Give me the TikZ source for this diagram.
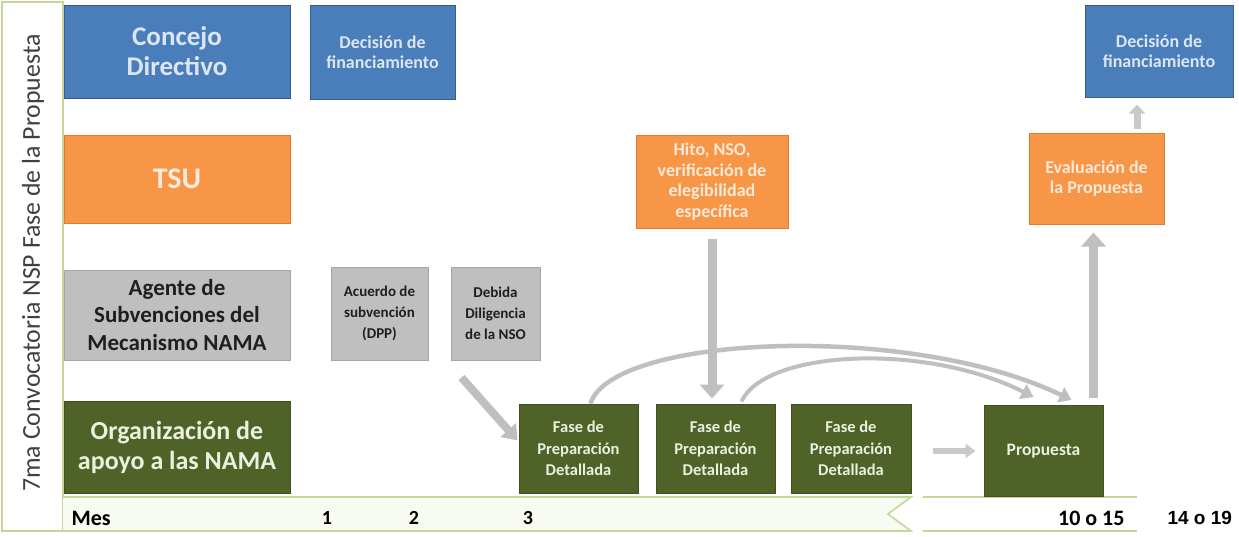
\documentclass[tikz,border=0pt]{standalone}
\usepackage{fontspec}
\setmainfont{Carlito}
\newfontfamily\arialfont{Liberation Sans}
\usetikzlibrary{arrows.meta,calc}
\definecolor{cdblue}{HTML}{4A7EBB}
\definecolor{cdblueb}{HTML}{385D8A}
\definecolor{cdbluet}{HTML}{DCE6F2}
\definecolor{cdorange}{HTML}{F79646}
\definecolor{cdorangeb}{HTML}{E07A2F}
\definecolor{cdoranget}{HTML}{FDEADA}
\definecolor{cdgray}{HTML}{BFBFBF}
\definecolor{cdgrayb}{HTML}{A6A6A6}
\definecolor{cdgrayt}{HTML}{1F1F1F}
\definecolor{cdgreen}{HTML}{4F6228}
\definecolor{cdgreenb}{HTML}{3F4F20}
\definecolor{cdgreent}{HTML}{EBF1DE}
\definecolor{cdframe}{HTML}{C3D69B}
\definecolor{cdstrip}{HTML}{F8FBF1}
\definecolor{cdarrow}{HTML}{BFBFBF}
\definecolor{cdtitle}{HTML}{404040}
\tikzset{
  boxbase/.style={draw, line width=1pt, align=center, inner sep=0pt},
  bluebox/.style={boxbase, draw=cdblueb, fill=cdblue, text=cdbluet},
  orangebox/.style={boxbase, draw=cdorangeb, fill=cdorange, text=cdoranget},
  graybox/.style={boxbase, draw=cdgrayb, fill=cdgray, text=cdgrayt},
  greenbox/.style={boxbase, draw=cdgreenb, fill=cdgreen, text=cdgreent},
  bigtxt/.style={font=\fontsize{27}{30}\selectfont\bfseries},
  tsutxt/.style={font=\fontsize{30}{34}\selectfont\bfseries},
  midtxt/.style={font=\fontsize{23}{27.5}\selectfont\bfseries},
  orgtxt/.style={font=\fontsize{26}{30}\selectfont\bfseries},
  smalltxt/.style={font=\fontsize{18}{20.5}\selectfont\bfseries},
  fasetxt/.style={font=\fontsize{16.5}{21.5}\selectfont\bfseries},
  graytxt/.style={font=\fontsize{15}{21}\selectfont\bfseries},
  blockarrow/.style={draw=cdarrow, line width=9pt, -{Triangle[width=24pt,length=14pt]}},
  curvearrow/.style={draw=cdarrow, line width=4.5pt, -{Triangle[width=16pt,length=12pt]}},
  smallarrow/.style={draw=cdarrow!85, line width=6pt, -{Triangle[width=14pt,length=10pt]}},
  frameline/.style={draw=cdframe, line width=1.6pt},
  timetxt/.style={font=\fontsize{20}{24}\selectfont\bfseries, text=black}
}
\begin{document}
\begin{tikzpicture}[x=1pt,y=-1pt]
\useasboundingbox (0,0) rectangle (1239,536);
% frame
\path[frameline, fill=white] (2,2) rectangle (63,531);
\path[frameline, fill=cdstrip] (63,497) -- (911,497) -- (888,514) -- (911,531) -- (63,531);
\draw[frameline] (923,497) -- (1137,497);
\draw[frameline] (923,531) -- (1137,531);
\node[rotate=90, text=cdtitle, font=\fontsize{25.8}{30}\selectfont] (title) at (33,263) {7ma Convocatoria NSP Fase de la Propuesta};
% row labels
\node[bluebox, bigtxt, minimum width=226pt, minimum height=93pt] (cd) at (177,51.5) {Concejo\\Directivo};
\node[orangebox, tsutxt, minimum width=226pt, minimum height=88pt] (tsu) at (177,179) {TSU};
\node[graybox, midtxt, minimum width=226pt, minimum height=90pt] (agente) at (177,315) {Agente de\\Subvenciones del\\Mecanismo NAMA};
\node[greenbox, orgtxt, minimum width=226pt, minimum height=92pt] (org) at (177,447) {Organización de\\apoyo a las NAMA};
% activity boxes
\node[bluebox, smalltxt, minimum width=145pt, minimum height=94pt] (dec1) at (382.5,52) {Decisión de\\financiamiento};
\node[orangebox, smalltxt, minimum width=152pt, minimum height=93pt] (hito) at (712,181.5) {Hito, NSO,\\verificación de\\elegibilidad\\específica};
\node[bluebox, smalltxt, minimum width=148pt, minimum height=92pt] (dec2) at (1159,51) {Decisión de\\financiamiento};
\node[orangebox, smalltxt, minimum width=135pt, minimum height=91pt] (eval) at (1096.5,178.5) {Evaluación de\\la Propuesta};
\node[graybox, graytxt, minimum width=97pt, minimum height=93pt] (acuerdo) at (379.5,313.5) {Acuerdo de\\subvención\\(DPP)};
\node[graybox, graytxt, minimum width=89pt, minimum height=93pt] (debida) at (495.5,313.5) {Debida\\Diligencia\\de la NSO};
\node[greenbox, fasetxt, minimum width=119pt, minimum height=89pt] (fase1) at (578.5,448.5) {Fase de\\Preparación\\Detallada};
\node[greenbox, fasetxt, minimum width=119pt, minimum height=89pt] (fase2) at (715.5,448.5) {Fase de\\Preparación\\Detallada};
\node[greenbox, fasetxt, minimum width=120pt, minimum height=89pt] (fase3) at (851,448.5) {Fase de\\Preparación\\Detallada};
\node[greenbox, font=\fontsize{17.5}{21}\selectfont\bfseries, minimum width=119pt, minimum height=91pt] (prop) at (1043.5,451) {Propuesta};
% arrows
\coordinate (dstart) at ($(debida.south west)+(11,17)$);
\coordinate (dend) at ($(fase1.west)+(-1,-8)$);
\draw[blockarrow, line width=8pt, -{Triangle[width=20pt,length=14pt]}] (dstart) -- (dend);
\draw[blockarrow] (hito.south) -- (hito.south |- fase2.north) [shorten <=10pt, shorten >=5pt];
\coordinate (c1s) at ($(fase1.north)+(12,0)$);
\coordinate (c1e) at ($(prop.north)+(28,-5)$);
\draw[curvearrow] (c1s) .. controls (612,335) and (910,322) .. (c1e);
\coordinate (c2s) at ($(fase2.north)+(26,-2)$);
\coordinate (c2e) at ($(prop.north)+(-10,-8)$);
\draw[curvearrow, line width=4pt] (c2s) .. controls (765,350) and (925,342) .. (c2e);
\draw[smallarrow] (fase3.east |- prop.west) -- (prop.west) [shorten <=21pt, shorten >=8pt];
\coordinate (pa) at ($(prop.north east)+(-10,-7)$);
\draw[blockarrow] (pa) -- (pa |- eval.south) [shorten >=8pt];
\coordinate (ea) at ($(eval.north)+(40.5,-4)$);
\draw[smallarrow, line width=7pt, -{Triangle[width=16pt,length=9pt]}] (ea) -- (ea |- dec2.south) [shorten >=7pt];
% timeline labels
\node[anchor=west, font=\fontsize{22}{26}\selectfont\bfseries, text=black] (mes) at (68,518) {Mes};
\node[timetxt] (m1) at (327,518) {1};
\node[timetxt] (m2) at (414,518) {2};
\node[timetxt] (m3) at (528,518) {3};
\node[anchor=east, font=\fontsize{22}{26}\selectfont\bfseries, text=black] (m10) at (1128,518) {10 o 15};
\node[anchor=west, font=\fontsize{19}{23}\selectfont\arialfont\bfseries, text=black] (m14) at (1164,518) {14 o 19};
\end{tikzpicture}
\end{document}
